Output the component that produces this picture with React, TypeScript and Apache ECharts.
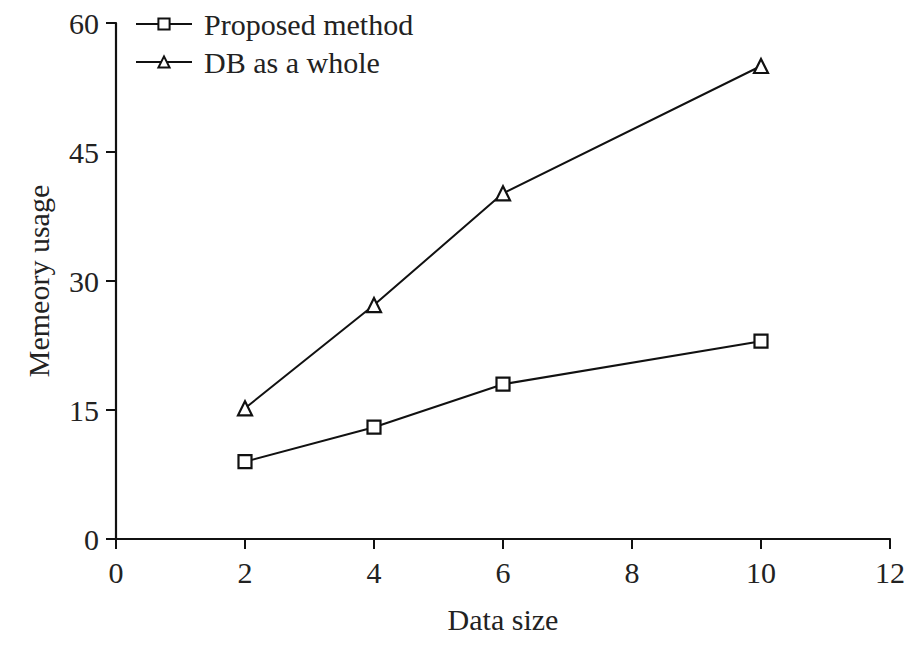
import React, { useEffect, useRef } from "react";
import * as echarts from "echarts";

const xValues = [2, 4, 6, 10];
const proposedValues = [9, 13, 18, 23];
const wholeDbValues = [15.2, 27.2, 40.2, 55];
const seriesNames = ["Proposed method", "DB as a whole"];
const xAxisTitle = "Data size";
const yAxisTitle = "Memeory usage";

const FONT = "'Liberation Serif', 'DejaVu Serif', serif";

export default function App() {
  const ref = useRef<HTMLDivElement>(null);
  useEffect(() => {
    if (!ref.current) return;
    const chart = echarts.init(ref.current, null, { renderer: "svg" });
    const axisCommon = {
      axisLine: { show: true, lineStyle: { color: "#111", width: 2.2 } },
      axisTick: { show: true, length: 10, lineStyle: { color: "#111", width: 2 } },
      splitLine: { show: false },
      nameTextStyle: { fontFamily: FONT, fontSize: 30, color: "#222" },
    };
    chart.setOption({
      animation: false,
      backgroundColor: "#fff",
      textStyle: { fontFamily: FONT },
      grid: { left: 108, right: 13, top: 11, bottom: 94, containLabel: false },
      legend: {
        data: seriesNames,
        orient: "vertical",
        left: 127,
        top: 1,
        padding: 0,
        itemWidth: 56,
        itemHeight: 14,
        itemGap: 8,
        textStyle: {
          fontFamily: FONT,
          fontSize: 30,
          lineHeight: 30,
          color: "#222",
          padding: [0, 0, 0, 7],
        },
      },
      xAxis: {
        type: "value",
        min: 0,
        max: 12,
        interval: 2,
        name: xAxisTitle,
        nameLocation: "middle",
        nameGap: 65,
        axisLabel: { fontFamily: FONT, fontSize: 30, color: "#222", margin: 18 },
        ...axisCommon,
      },
      yAxis: {
        type: "value",
        min: 0,
        max: 60,
        interval: 15,
        name: yAxisTitle,
        nameLocation: "middle",
        nameGap: 63,
        axisLabel: { fontFamily: FONT, fontSize: 30, color: "#222", margin: 17 },
        ...axisCommon,
      },
      series: [
        {
          name: seriesNames[0],
          type: "line",
          data: xValues.map((x, i) => [x, proposedValues[i]]),
          symbol: "rect",
          symbolSize: 13,
          itemStyle: { color: "#fff", borderColor: "#111", borderWidth: 2.2 },
          lineStyle: { color: "#111", width: 2 },
        },
        {
          name: seriesNames[1],
          type: "line",
          data: xValues.map((x, i) => [x, wholeDbValues[i]]),
          symbol: "triangle",
          symbolSize: 14,
          itemStyle: { color: "#fff", borderColor: "#111", borderWidth: 2.2 },
          lineStyle: { color: "#111", width: 2 },
        },
      ],
    });
    return () => chart.dispose();
  }, []);
  return <div ref={ref} style={{ width: 900, height: 631 }} />;
}
